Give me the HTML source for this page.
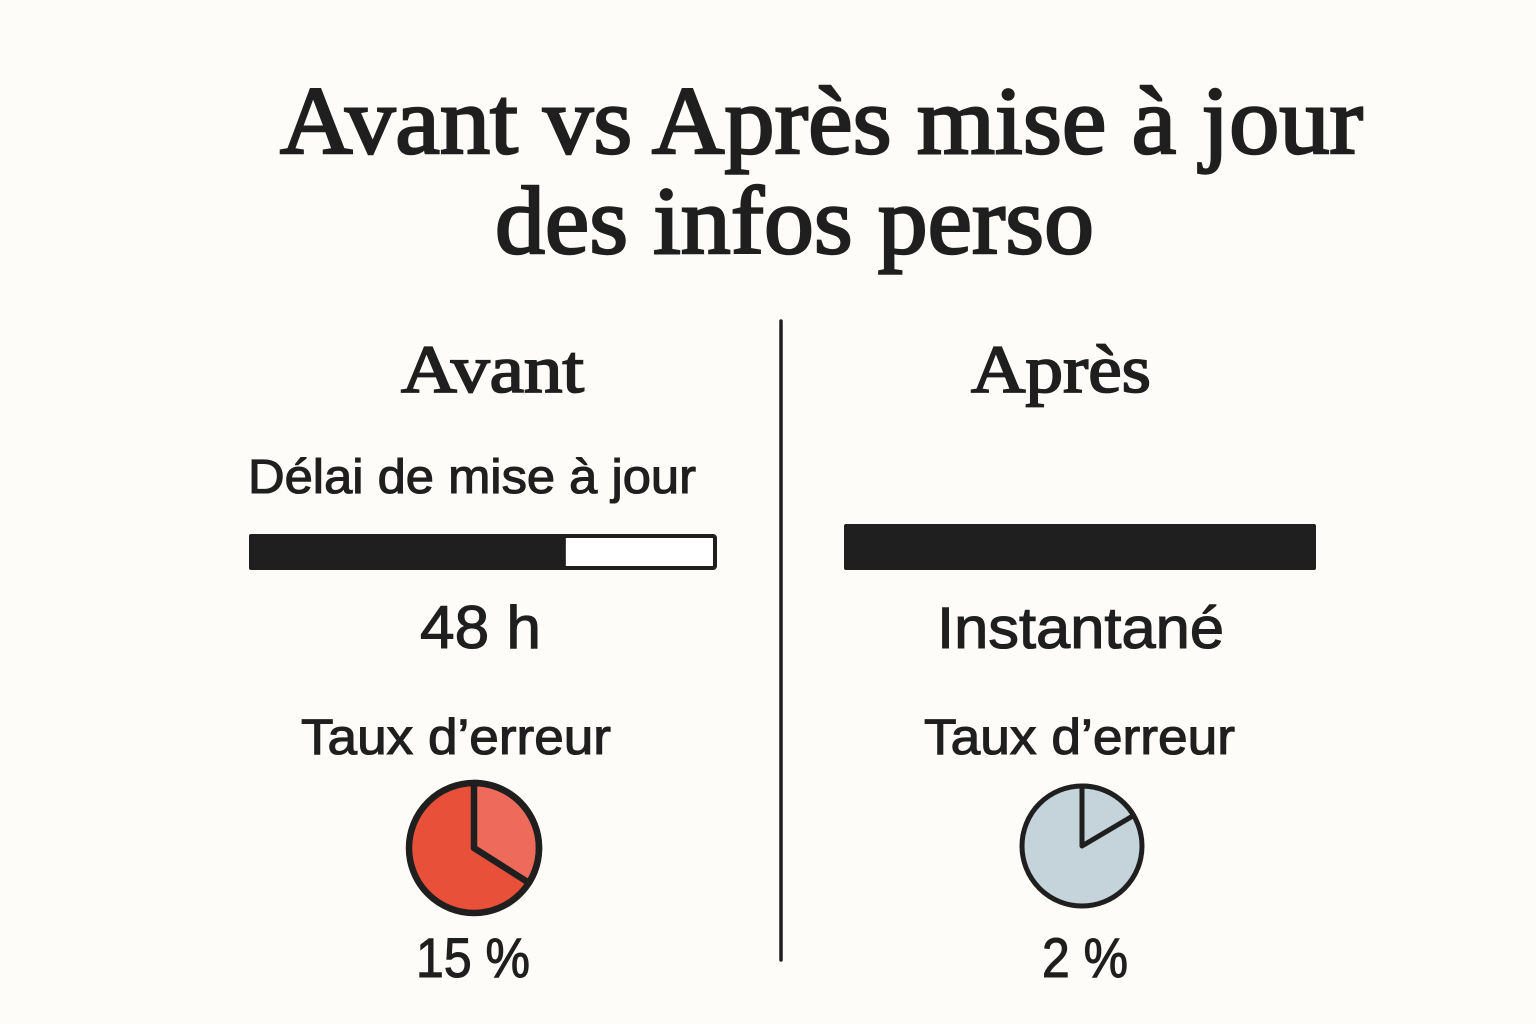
<!DOCTYPE html>
<html lang="fr">
<head>
<meta charset="utf-8">
<title>Avant vs Après mise à jour des infos perso</title>
<style>
html,body{margin:0;padding:0;background:#fdfcf8;}
body{width:1536px;height:1024px;overflow:hidden;}
svg{display:block;}
.serif{font-family:"Liberation Serif",serif;fill:#1f1f1f;stroke:#1f1f1f;stroke-width:2.4px;}
.sans{font-family:"Liberation Sans",sans-serif;fill:#1f1f1f;stroke:#1f1f1f;stroke-width:1.1px;}
</style>
</head>
<body>
<svg id="chart" xmlns="http://www.w3.org/2000/svg" width="1536" height="1024" viewBox="0 0 1536 1024">
  <rect x="0" y="0" width="1536" height="1024" fill="#fdfcf8"/>
  <text class="serif" x="280" y="153" font-size="96" textLength="1083" lengthAdjust="spacingAndGlyphs">Avant vs Après mise à jour</text>
  <text class="serif" x="495" y="253" font-size="96" textLength="599" lengthAdjust="spacingAndGlyphs">des infos perso</text>
  <line x1="781" y1="321" x2="781" y2="960" stroke="#1f1f1f" stroke-width="3.5" stroke-linecap="round"/>
  <text class="serif" x="401" y="392" font-size="68" textLength="183" lengthAdjust="spacingAndGlyphs" style="stroke-width:1.8px">Avant</text>
  <text class="serif" x="971" y="392" font-size="68" textLength="180" lengthAdjust="spacingAndGlyphs" style="stroke-width:1.8px">Après</text>
  <text class="sans" x="248" y="493" font-size="48" textLength="448" lengthAdjust="spacingAndGlyphs">Délai de mise à jour</text>
  <text class="sans" x="420" y="648" font-size="60" textLength="121" lengthAdjust="spacingAndGlyphs">48 h</text>
  <text class="sans" x="937" y="648" font-size="58" textLength="287" lengthAdjust="spacingAndGlyphs">Instantané</text>
  <text class="sans" x="301" y="754" font-size="50" textLength="310" lengthAdjust="spacingAndGlyphs">Taux d’erreur</text>
  <text class="sans" x="924" y="754" font-size="50" textLength="311" lengthAdjust="spacingAndGlyphs">Taux d’erreur</text>
  <text class="sans" x="416" y="977" font-size="56" textLength="114" lengthAdjust="spacingAndGlyphs">15 %</text>
  <text class="sans" x="1042" y="977" font-size="56" textLength="86" lengthAdjust="spacingAndGlyphs">2 %</text>
  <g id="marks"></g>
</svg>
<script>
// Values (drawn proportions, in percent)
const barShares = [67.7, 100];
const pieShares = [34, 16.5];

const SVG_NS = 'http://www.w3.org/2000/svg';
const INK = '#1f1f1f';
const marks = document.getElementById('marks');

const barFrames = [
  { x: 249, y: 534, w: 468, h: 36 },
  { x: 844, y: 524, w: 472, h: 46 }
];
const pieFrames = [
  { cx: 474, cy: 848, r: 65, base: '#e8503a', wedge: '#ee6b5c', sw: 6.5 },
  { cx: 1082, cy: 846, r: 60, base: '#c5d3da', wedge: '#c5d3da', sw: 5 }
];

function barWidth(share, frame) {
  return frame.w * share / 100;
}
function pieAngle(share) {
  return share / 100 * 2 * Math.PI;
}
function piePoint(frame, angle) {
  return [frame.cx + frame.r * Math.sin(angle), frame.cy - frame.r * Math.cos(angle)];
}

barShares.forEach(function (share, i) {
  const f = barFrames[i];
  const track = document.createElementNS(SVG_NS, 'rect');
  
  
  track.setAttribute('x', f.x + 2);
  track.setAttribute('y', f.y + 2);
  track.setAttribute('width', f.w - 4);
  track.setAttribute('height', f.h - 4);
  track.setAttribute('rx', 2);
  track.setAttribute('fill', '#ffffff');
  track.setAttribute('stroke', INK);
  track.setAttribute('stroke-width', 4);
  marks.appendChild(track);

  const fill = document.createElementNS(SVG_NS, 'rect');
  
  
  fill.setAttribute('x', f.x);
  fill.setAttribute('y', f.y);
  fill.setAttribute('width', barWidth(share, f));
  fill.setAttribute('height', f.h);
  fill.setAttribute('rx', 2);
  fill.setAttribute('fill', INK);
  marks.appendChild(fill);
});

pieShares.forEach(function (share, i) {
  const f = pieFrames[i];
  const a = pieAngle(share);
  const end = piePoint(f, a);
  const top = piePoint(f, 0);
  const large = share > 50 ? 1 : 0;

  const disc = document.createElementNS(SVG_NS, 'circle');
  
  
  disc.setAttribute('cx', f.cx);
  disc.setAttribute('cy', f.cy);
  disc.setAttribute('r', f.r);
  disc.setAttribute('fill', f.base);
  marks.appendChild(disc);

  const wedge = document.createElementNS(SVG_NS, 'path');
  
  
  wedge.setAttribute('d', 'M' + f.cx + ' ' + f.cy + ' L' + top[0] + ' ' + top[1] +
    ' A' + f.r + ' ' + f.r + ' 0 ' + large + ' 1 ' + end[0] + ' ' + end[1] + ' Z');
  wedge.setAttribute('fill', f.wedge);
  wedge.setAttribute('stroke', INK);
  wedge.setAttribute('stroke-width', f.sw);
  wedge.setAttribute('stroke-linejoin', 'round');
  marks.appendChild(wedge);

  const ring = document.createElementNS(SVG_NS, 'circle');
  
  
  ring.setAttribute('cx', f.cx);
  ring.setAttribute('cy', f.cy);
  ring.setAttribute('r', f.r);
  ring.setAttribute('fill', 'none');
  ring.setAttribute('stroke', INK);
  ring.setAttribute('stroke-width', f.sw);
  marks.appendChild(ring);
});
</script>
</body>
</html>
